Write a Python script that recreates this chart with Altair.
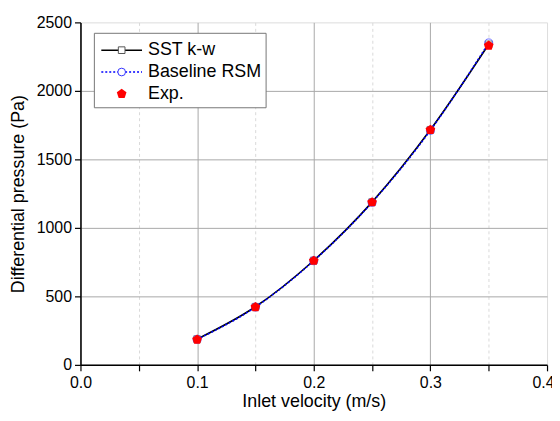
import altair as alt
import pandas as pd

# ---- data ----
velocity = [0.10, 0.15, 0.20, 0.25, 0.30, 0.35]
sst_kw = [188, 424, 762, 1188, 1716, 2340]
baseline_rsm = [186, 422, 760, 1186, 1712, 2350]
exp_vals = [185, 422, 760, 1187, 1715, 2330]

x_ticks = [0.0, 0.05, 0.1, 0.15, 0.2, 0.25, 0.3, 0.35, 0.4]
y_ticks = [0, 250, 500, 750, 1000, 1250, 1500, 1750, 2000, 2250, 2500]

legend_labels = ["SST k-w", "Baseline RSM", "Exp."]

df = pd.DataFrame({
    "v": velocity,
    "sst": sst_kw,
    "rsm": baseline_rsm,
    "exp": exp_vals,
})

FONT = "Liberation Sans"
PENTAGON = "M0,-1L0.951,-0.309L0.588,0.809L-0.588,0.809L-0.951,-0.309Z"

x_axis = alt.Axis(
    values=x_ticks,
    title="Inlet velocity (m/s)",
    labelExpr="round(datum.value*100) % 10 === 0 ? format(datum.value, '.1f') : ''",
    labelFlush=False,
    labelOverlap=False,
    labelOffset={"condition": {"test": "datum.value > 0.399", "value": -4}, "value": 0},
    tickSize=6,
    tickColor="black",
    domainColor="black",
    domainWidth=1.5,
    tickWidth=1.2,
    labelFont=FONT, labelFontSize=16, labelColor="black", labelPadding=4,
    titleFont=FONT, titleFontSize=18, titleFontWeight="normal", titleColor="black",
    titlePadding=2,
    grid=True,
    gridColor={"condition": {"test": "round(datum.value*100) % 10 !== 0", "value": "#d9d9d9"}, "value": "#a8a8a8"},
    gridDash={"condition": {"test": "round(datum.value*100) % 10 !== 0", "value": [3, 3]}, "value": []},
    gridOpacity={"condition": {"test": "datum.value > 0.399", "value": 0}, "value": 1},
)

y_axis = alt.Axis(
    values=y_ticks,
    title="Differential pressure (Pa)",
    labelExpr="datum.value % 500 === 0 ? datum.label : ''",
    format="d",
    labelFlush=False,
    labelOverlap=False,
    tickSize=6,
    tickColor="black",
    domainColor="black",
    domainWidth=1.5,
    tickWidth=1.2,
    labelFont=FONT, labelFontSize=16, labelColor="black", labelPadding=3,
    titleFont=FONT, titleFontSize=18, titleFontWeight="normal", titleColor="black",
    titlePadding=9,
    grid=True,
    gridColor={"condition": {"test": "datum.value % 500 !== 0", "value": "#d9d9d9"}, "value": "#a8a8a8"},
    gridDash={"condition": {"test": "datum.value % 500 !== 0", "value": [3, 3]}, "value": []},
    gridOpacity={"condition": {"test": "datum.value >= 2500", "value": 0}, "value": 1},
)

xs = alt.Scale(domain=[0, 0.4], nice=False)
ys = alt.Scale(domain=[0, 2500], nice=False)

base = alt.Chart(df)

sst_line = base.mark_line(color="black", strokeWidth=1.6, interpolate="monotone").encode(
    x=alt.X("v:Q", scale=xs, axis=x_axis),
    y=alt.Y("sst:Q", scale=ys, axis=y_axis),
)
rsm_line = base.mark_line(color="#0000ff", strokeWidth=1.6, strokeDash=[2, 2], interpolate="monotone").encode(
    x=alt.X("v:Q", scale=xs), y=alt.Y("rsm:Q", scale=ys),
)
sst_pts = base.mark_point(shape="square", size=45, filled=False, color="#555555", strokeWidth=1).encode(
    x=alt.X("v:Q", scale=xs), y=alt.Y("sst:Q", scale=ys),
)
rsm_pts = base.mark_point(shape="circle", size=65, filled=False, color="#3333ff", strokeWidth=1).encode(
    x=alt.X("v:Q", scale=xs), y=alt.Y("rsm:Q", scale=ys),
)
exp_pts = base.mark_point(shape=PENTAGON, size=105, filled=True, color="#ff0000", opacity=1).encode(
    x=alt.X("v:Q", scale=xs), y=alt.Y("exp:Q", scale=ys),
)

# ---- manual legend (inside plot, top-left) ----
one = alt.Data(values=[{"a": 0}])
leg_box = alt.Chart(one).mark_rect(fill="white", stroke="#777777", strokeWidth=1).encode(
    x=alt.value(14), x2=alt.value(187), y=alt.value(11), y2=alt.value(86)
)
leg_l1 = alt.Chart(one).mark_rule(color="black", strokeWidth=1.6).encode(
    x=alt.value(21), x2=alt.value(62), y=alt.value(28)
)
leg_s1 = alt.Chart(one).mark_point(shape="square", size=45, filled=True, fill="white", stroke="#555555", strokeWidth=1, opacity=1).encode(
    x=alt.value(41.5), y=alt.value(28)
)
leg_l2 = alt.Chart(one).mark_rule(color="#0000ff", strokeWidth=1.6, strokeDash=[2, 2]).encode(
    x=alt.value(21), x2=alt.value(62), y=alt.value(50)
)
leg_s2 = alt.Chart(one).mark_point(shape="circle", size=60, filled=True, fill="white", stroke="#3333ff", strokeWidth=1, opacity=1).encode(
    x=alt.value(41.5), y=alt.value(50)
)
leg_s3 = alt.Chart(one).mark_point(shape=PENTAGON, size=105, filled=True, color="#ff0000", opacity=1).encode(
    x=alt.value(41.5), y=alt.value(72)
)
leg_texts = [
    alt.Chart(one).mark_text(
        align="left", baseline="middle", font=FONT, fontSize=18, color="black", text=lab
    ).encode(x=alt.value(68), y=alt.value(yy))
    for lab, yy in zip(legend_labels, [28, 50, 72])
]

chart = alt.layer(
    sst_line, rsm_line, sst_pts, rsm_pts, exp_pts,
    leg_box, leg_l1, leg_s1, leg_l2, leg_s2, leg_s3, *leg_texts,
).properties(
    width=470, height=345,
    autosize=alt.AutoSizeParams(type="none"),
    padding={"left": 73, "top": 13, "right": 5, "bottom": 47},
).configure_view(stroke=None).configure(background="white")

chart.save("out.html", embed_options={"renderer": "svg", "actions": False})
